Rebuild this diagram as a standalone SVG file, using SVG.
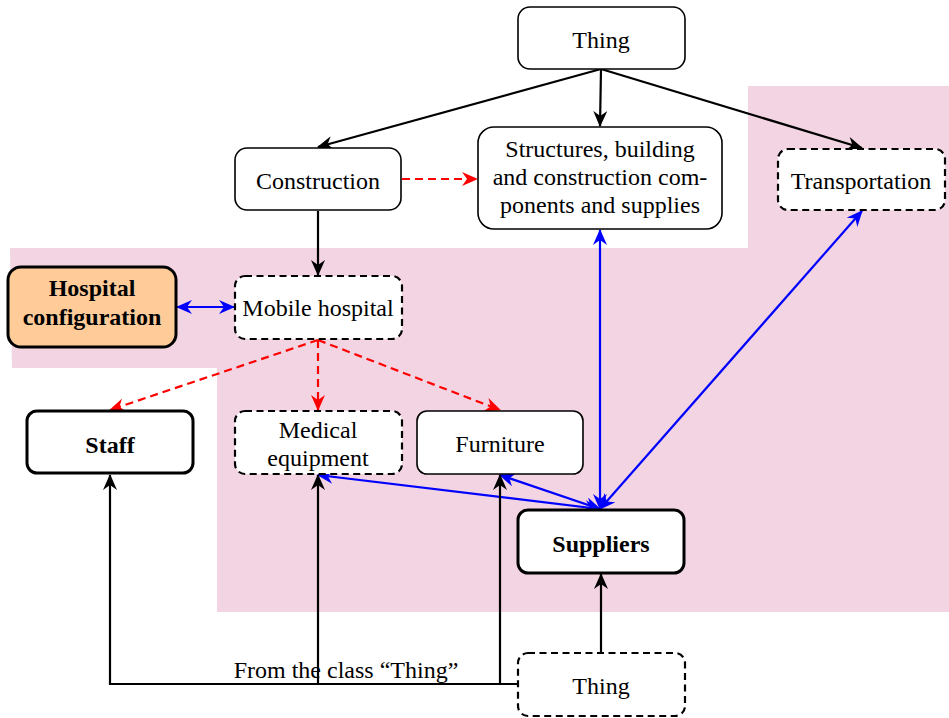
<svg xmlns="http://www.w3.org/2000/svg" width="949" height="718" viewBox="0 0 949 718">
<style>
text{font-family:"Liberation Serif","Times New Roman",serif;font-size:24px;fill:#000;text-anchor:middle}
.b{font-weight:bold}
.box{fill:#fff;stroke:#000;stroke-width:1.6}
.dash{fill:#fff;stroke:#000;stroke-width:2.2;stroke-dasharray:7 4.5}
.thick{fill:#fff;stroke:#000;stroke-width:3}
.blk{stroke:#000;stroke-width:2.2;fill:none}
.red{stroke:#f00;stroke-width:2.2;fill:none;stroke-dasharray:8 5}
.blu{stroke:#00f;stroke-width:2.2;fill:none}
</style>
<defs>
<marker id="ak" markerUnits="userSpaceOnUse" markerWidth="16" markerHeight="14" viewBox="0 0 16 14" refX="15" refY="7" orient="auto-start-reverse"><path d="M0,0 L16,7 L0,14 L5,7 z" fill="#000"/></marker>
<marker id="ar" markerUnits="userSpaceOnUse" markerWidth="16" markerHeight="14" viewBox="0 0 16 14" refX="15" refY="7" orient="auto-start-reverse"><path d="M0,0 L16,7 L0,14 L5,7 z" fill="#f00"/></marker>
<marker id="ab" markerUnits="userSpaceOnUse" markerWidth="16" markerHeight="14" viewBox="0 0 16 14" refX="15" refY="7" orient="auto-start-reverse"><path d="M0,0 L16,7 L0,14 L5,7 z" fill="#00f"/></marker>
</defs>
<polygon points="10,248 748,248 748,86 949,86 949,612 217,612 217,368 12,368" fill="#F2D4E2"/>
<g id="connectors">
<line class="blk" x1="601" y1="69" x2="318" y2="147" marker-end="url(#ak)"/>
<line class="blk" x1="601" y1="69" x2="600" y2="126" marker-end="url(#ak)"/>
<line class="blk" x1="601" y1="69" x2="862" y2="148" marker-end="url(#ak)"/>
<line class="blk" x1="318" y1="211" x2="318" y2="275" marker-end="url(#ak)"/>
<line class="red" x1="402" y1="179" x2="477" y2="179" marker-end="url(#ar)"/>
<line class="blu" x1="177" y1="307" x2="234" y2="307" marker-start="url(#ab)" marker-end="url(#ab)"/>
<line class="red" x1="318" y1="340" x2="110" y2="410" marker-end="url(#ar)"/>
<line class="red" x1="318" y1="340" x2="318" y2="410" marker-end="url(#ar)"/>
<line class="red" x1="318" y1="340" x2="500" y2="410" marker-end="url(#ar)"/>
<line class="blu" x1="600" y1="230" x2="600" y2="509" marker-start="url(#ab)" marker-end="url(#ab)"/>
<line class="blu" x1="862" y1="211" x2="600" y2="509" marker-start="url(#ab)" marker-end="url(#ab)"/>
<line class="blu" x1="318" y1="475" x2="600" y2="509" marker-start="url(#ab)" marker-end="url(#ab)"/>
<line class="blu" x1="500" y1="475" x2="600" y2="509" marker-start="url(#ab)" marker-end="url(#ab)"/>
<polyline class="blk" points="518,684 110,684 110,475" marker-end="url(#ak)"/>
<line class="blk" x1="318" y1="684" x2="318" y2="475" marker-end="url(#ak)"/>
<line class="blk" x1="500" y1="684" x2="500" y2="475" marker-end="url(#ak)"/>
<line class="blk" x1="601" y1="653" x2="601" y2="574" marker-end="url(#ak)"/>
</g>
<g id="thing-top"><rect class="box" x="518" y="7" width="167" height="62" rx="12"/><text x="601" y="48">Thing</text></g>
<g id="construction"><rect class="box" x="235" y="148" width="166" height="62" rx="12"/><text x="318" y="189">Construction</text></g>
<g id="structures"><rect class="box" x="478" y="127" width="244" height="102" rx="16"/><text x="600" y="157">Structures, building</text><text x="600" y="185">and construction com-</text><text x="600" y="213">ponents and supplies</text></g>
<g id="transportation"><rect class="dash" x="778" y="149" width="167" height="61" rx="10"/><text x="861" y="189">Transportation</text></g>
<g id="hospital-configuration"><rect x="8" y="267" width="168" height="80" rx="13" fill="#FFCC99" stroke="#000" stroke-width="3"/><text class="b" x="92" y="296">Hospital</text><text class="b" x="92" y="325">configuration</text></g>
<g id="mobile-hospital"><rect class="dash" x="235" y="276" width="167" height="63" rx="10"/><text x="318" y="316">Mobile hospital</text></g>
<g id="staff"><rect class="thick" x="27" y="411" width="166" height="62" rx="10"/><text class="b" x="110" y="453">Staff</text></g>
<g id="medical-equipment"><rect class="dash" x="235" y="411" width="167" height="63" rx="10"/><text x="318" y="438">Medical</text><text x="318" y="466">equipment</text></g>
<g id="furniture"><rect class="box" x="417" y="411" width="166" height="63" rx="10"/><text x="500" y="452">Furniture</text></g>
<g id="suppliers"><rect class="thick" x="518" y="510" width="166" height="63" rx="10"/><text class="b" x="601" y="552">Suppliers</text></g>
<g id="thing-bottom"><rect class="dash" x="518" y="653" width="167" height="63" rx="10"/><text x="601" y="694">Thing</text></g>
<text x="346" y="678">From the class “Thing”</text>
</svg>
